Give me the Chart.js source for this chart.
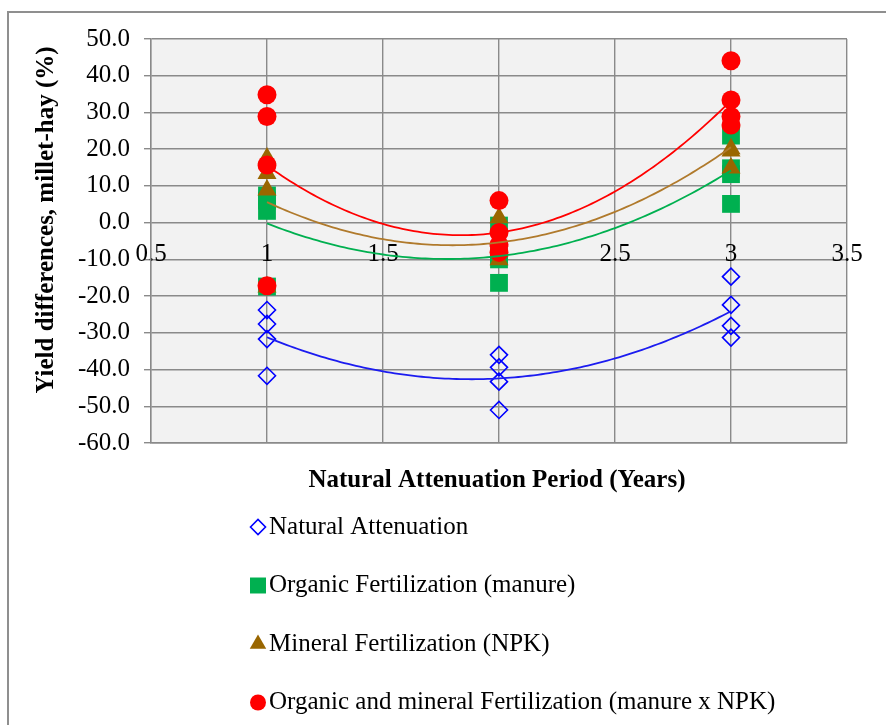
<!DOCTYPE html>
<html>
<head>
<meta charset="utf-8">
<script src="https://cdn.jsdelivr.net/npm/chart.js@4.4.1/dist/chart.umd.min.js"></script>
<style>
html,body{margin:0;padding:0;background:#fff;}
#wrap{width:886px;height:725px;position:relative;overflow:hidden;}
</style>
</head>
<body>
<div id="wrap"><canvas id="c" width="886" height="725"></canvas></div>
<script>
// ---- data (values per year, four replicates each) ----
const years = [1, 2, 3];
const naturalAttenuation = [
  [-23.8, -27.6, -31.7, -41.7],
  [-36.0, -39.4, -43.3, -51.0],
  [-14.7, -22.4, -28.1, -31.3]
];
const organicManure = [
  [7.4, 6.0, 3.2, -17.4],
  [-0.8, -9.2, -10.0, -16.4],
  [23.7, 14.8, 13.2, 5.1]
];
const mineralNPK = [
  [17.6, 13.4, 8.9, -17.5],
  [1.3, -5.0, -7.8, -10.1],
  [27.5, 20.1, 19.5, 14.9]
];
const organicMineral = [
  [34.8, 28.9, 15.7, -17.2],
  [6.0, -2.7, -6.0, -8.1],
  [44.1, 33.4, 28.9, 26.6]
];
const seriesLabels = [
  'Natural Attenuation',
  'Organic Fertilization (manure)',
  'Mineral Fertilization (NPK)',
  'Organic and mineral Fertilization (manure x NPK)'
];
const xTicks = [0.5, 1, 1.5, 2, 2.5, 3, 3.5];
const yTicks = [50, 40, 30, 20, 10, 0, -10, -20, -30, -40, -50, -60];
const xTitle = 'Natural Attenuation Period (Years)';
const yTitle = 'Yield differences, millet-hay (%)';

// ---- helpers ----
function toPoints(table) {
  const pts = [];
  table.forEach((vals, i) => vals.forEach(v => pts.push({x: years[i], y: v})));
  return pts;
}
// least-squares quadratic fit (Excel polynomial trendline, order 2)
function quadFit(pts) {
  let s = [0,0,0,0,0], t = [0,0,0];
  pts.forEach(p => {
    let xp = 1;
    for (let k = 0; k < 5; k++) { s[k] += xp; if (k < 3) t[k] += xp * p.y; xp *= p.x; }
  });
  const M = [[s[0],s[1],s[2],t[0]],[s[1],s[2],s[3],t[1]],[s[2],s[3],s[4],t[2]]];
  for (let i = 0; i < 3; i++) {
    let piv = i;
    for (let r = i+1; r < 3; r++) if (Math.abs(M[r][i]) > Math.abs(M[piv][i])) piv = r;
    [M[i], M[piv]] = [M[piv], M[i]];
    for (let r = 0; r < 3; r++) if (r !== i) {
      const f = M[r][i] / M[i][i];
      for (let c = i; c < 4; c++) M[r][c] -= f * M[i][c];
    }
  }
  return [M[0][3]/M[0][0], M[1][3]/M[1][1], M[2][3]/M[2][2]];
}

const FONT = "'Liberation Serif', 'Times New Roman', Times, serif";
const FSIZE = 25;
const GRID = '#8a8a8a';

const styles = [
  {pointStyle: 'rectRot', radius: 8.5, backgroundColor: 'rgba(0,0,0,0)', borderColor: '#0000ff', borderWidth: 1.6, trend: '#1c1cf0', legendRadius: 7.5},
  {pointStyle: 'rect', radius: 12.6, backgroundColor: '#00b050', borderColor: '#00b050', borderWidth: 0, trend: '#00b050', legendRadius: 11.3},
  {pointStyle: 'triangle', radius: 11, backgroundColor: '#996600', borderColor: '#996600', borderWidth: 0, trend: '#b07a2c', legendRadius: 9.5},
  {pointStyle: 'circle', radius: 9.5, backgroundColor: '#ff0000', borderColor: '#ff0000', borderWidth: 0, trend: '#ff0000', legendRadius: 8}
];
const tables = [naturalAttenuation, organicManure, mineralNPK, organicMineral];

const datasets = tables.map((tbl, i) => {
  const pts = toPoints(tbl);
  return {
    label: seriesLabels[i],
    data: pts,
    pointStyle: styles[i].pointStyle,
    pointRadius: styles[i].radius,
    pointHoverRadius: styles[i].radius,
    pointBackgroundColor: styles[i].backgroundColor,
    pointBorderColor: styles[i].borderColor,
    pointBorderWidth: styles[i].borderWidth,
    backgroundColor: styles[i].backgroundColor,
    borderColor: styles[i].borderColor,
    showLine: false,
    order: 4 - i,
    trendColor: styles[i].trend,
    legendRadius: styles[i].legendRadius,
    trendCoef: quadFit(pts)
  };
});

const decorPlugin = {
  id: 'decor',
  beforeDraw(chart) {
    const {ctx, chartArea: a} = chart;
    ctx.save();
    ctx.strokeStyle = '#8f8f8f';
    ctx.lineWidth = 2;
    ctx.strokeRect(8, 12, 1200, 1200);
    ctx.fillStyle = '#f2f2f2';
    ctx.fillRect(a.left, a.top, a.right - a.left, a.bottom - a.top);
    ctx.restore();
  },
  afterDatasetsDraw(chart) {
    const {ctx, chartArea: a, scales} = chart;
    ctx.save();
    ctx.beginPath();
    ctx.rect(a.left, a.top, a.right - a.left, a.bottom - a.top);
    ctx.clip();
    chart.data.datasets.forEach(ds => {
      const [c0, c1, c2] = ds.trendCoef;
      const xs = ds.data.map(p => p.x);
      const x0 = Math.min(...xs), x1 = Math.max(...xs);
      ctx.beginPath();
      const n = 120;
      for (let k = 0; k <= n; k++) {
        const xv = x0 + (x1 - x0) * k / n;
        const yv = c0 + c1 * xv + c2 * xv * xv;
        const px = scales.x.getPixelForValue(xv), py = scales.y.getPixelForValue(yv);
        if (k === 0) ctx.moveTo(px, py); else ctx.lineTo(px, py);
      }
      ctx.strokeStyle = ds.trendColor;
      ctx.lineWidth = 1.8;
      ctx.stroke();
    });
    ctx.restore();
  },
  afterDraw(chart) {
    const {ctx} = chart;
    ctx.save();
    ctx.fillStyle = '#000';
    ctx.font = 'bold ' + FSIZE + 'px ' + FONT;
    ctx.textAlign = 'center';
    ctx.textBaseline = 'middle';
    // x title
    ctx.fillText(xTitle, 497, 481);
    // y title
    ctx.save();
    ctx.translate(47, 220);
    ctx.rotate(-Math.PI / 2);
    ctx.fillText(yTitle, 0, 0);
    ctx.restore();
    // legend
    const lx = 258, ly0 = 527, ldy = 58.5, tx = 269;
    chart.data.datasets.forEach((ds, i) => {
      const y = ly0 + i * ldy;
      ctx.fillStyle = ds.pointBackgroundColor;
      ctx.strokeStyle = ds.pointBorderColor;
      ctx.lineWidth = ds.pointBorderWidth;
      Chart.helpers.drawPoint(ctx, {pointStyle: ds.pointStyle, radius: ds.legendRadius, borderWidth: ds.pointBorderWidth, rotation: 0}, lx, y);
      ctx.fillStyle = '#000';
      ctx.font = FSIZE + 'px ' + FONT;
      ctx.textAlign = 'left';
      ctx.textBaseline = 'middle';
      ctx.fillText(ds.label, tx, y);
    });
    ctx.restore();
  }
};

new Chart(document.getElementById('c'), {
  type: 'scatter',
  data: {datasets},
  plugins: [decorPlugin],
  options: {
    responsive: false,
    animation: false,
    layout: {padding: {left: 0, top: 39, right: 39, bottom: 282}},
    plugins: {legend: {display: false}, tooltip: {enabled: false}},
    scales: {
      x: {
        type: 'linear', position: 'bottom',
        min: xTicks[0], max: xTicks[xTicks.length - 1],
        afterBuildTicks: s => { s.ticks = xTicks.map(v => ({value: v})); },
        afterFit: s => { s.height = 0; },
        grid: {color: GRID, lineWidth: 1.4, drawTicks: false},
        border: {color: GRID, width: 1.4},
        ticks: {display: false}
      },
      xz: {
        type: 'linear', axis: 'x', position: {y: 0},
        min: xTicks[0], max: xTicks[xTicks.length - 1],
        afterBuildTicks: s => { s.ticks = xTicks.map(v => ({value: v})); },
        grid: {display: false, drawTicks: false},
        border: {display: false},
        ticks: {padding: 17, color: '#000', font: {family: FONT, size: FSIZE}, maxRotation: 0, autoSkip: false, callback: v => String(v)}
      },
      y: {
        type: 'linear', position: 'left',
        min: yTicks[yTicks.length - 1], max: yTicks[0],
        afterBuildTicks: s => { s.ticks = yTicks.slice().reverse().map(v => ({value: v})); },
        afterFit: s => { s.width = 151; },
        grid: {color: GRID, lineWidth: 1.4, tickLength: 7},
        border: {color: GRID, width: 1.4},
        ticks: {padding: 14, color: '#000', font: {family: FONT, size: FSIZE}, callback: v => v.toFixed(1), autoSkip: false}
      }
    }
  }
});
</script>
</body>
</html>
